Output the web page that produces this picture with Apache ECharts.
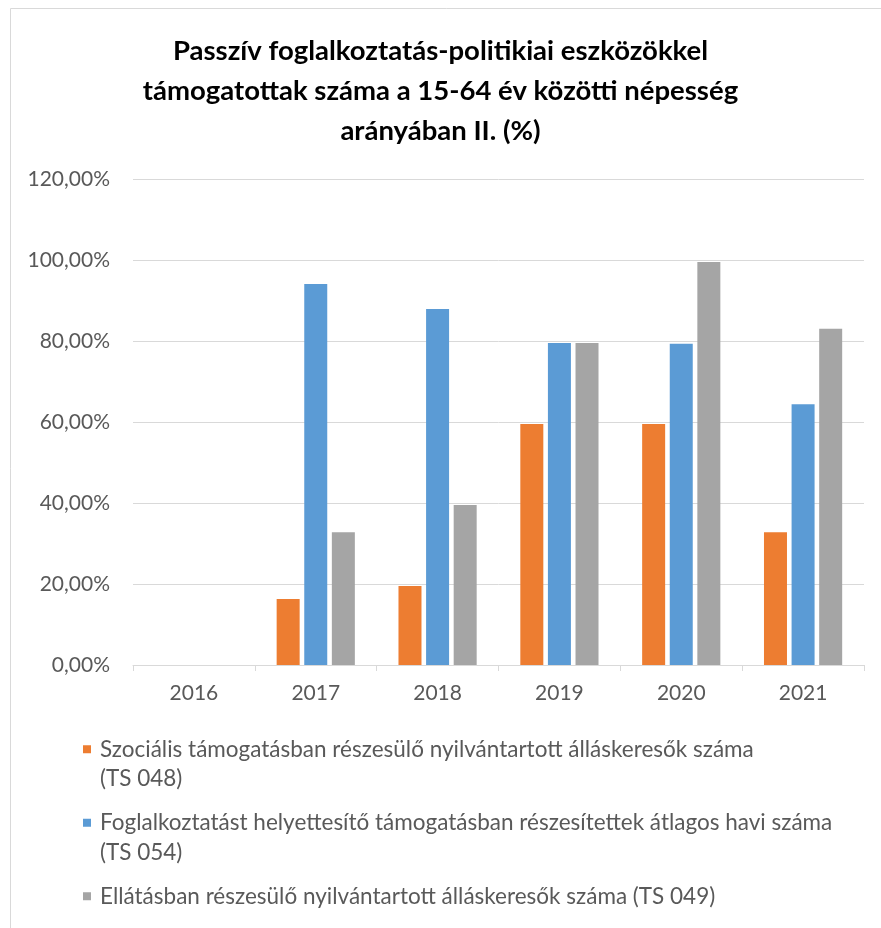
<!DOCTYPE html>
<html>
<head>
<meta charset="utf-8">
<script src="https://cdn.jsdelivr.net/npm/echarts@6/dist/echarts.min.js"></script>
<style>
  html, body { margin: 0; padding: 0; background: #fff; }
  #chart { width: 881px; height: 928px; }
</style>
</head>
<body>
<div id="chart"></div>
<script>
// évek
const years = ['2016', '2017', '2018', '2019', '2020', '2021']

// sorozatok (%)
const ts048 = [0, 16.3, 19.5, 59.5, 59.5, 32.8]
const ts054 = [0, 94.1, 87.9, 79.5, 79.3, 64.4]
const ts049 = [0, 32.8, 39.5, 79.5, 99.5, 83.0]

const seriesNames = [
    'Szociális támogatásban részesülő nyilvántartott álláskeresők száma (TS 048)',
    'Foglalkoztatást helyettesítő támogatásban részesítettek átlagos havi száma (TS 054)',
    'Ellátásban részesülő nyilvántartott álláskeresők száma (TS 049)',
]
// legend szöveg sortöréssel (első sor az ikon magasságában)
const legendLabels = [
    '{p| }\n{t|Szociális támogatásban részesülő nyilvántartott álláskeresők száma}\n{t|(TS 048)}',
    '{p| }\n{t|Foglalkoztatást helyettesítő támogatásban részesítettek átlagos havi száma}\n{t|(TS 054)}',
    '{p| }\n{t|Ellátásban részesülő nyilvántartott álláskeresők száma (TS 049)}\n{p| }',
]

const yTicks = { min: 0, max: 120, step: 20 }
const colors = ['#ED7D31', '#5B9BD5', '#A5A5A5']
const font = 'Lato, "Open Sans", sans-serif'

const chart = echarts.init(document.getElementById('chart'))

const bar = (name, data, color) => ({
    name: name,
    type: 'bar',
    data: data,
    barWidth: 23,
    barGap: '20%',
    itemStyle: { color: color },
})

chart.setOption({
    animation: false,
    textStyle: { fontFamily: font },
    title: {
        text: 'Passzív foglalkoztatás-politikiai eszközökkel\ntámogatottak száma a 15-64 év közötti népesség\narányában II. (%)',
        left: 'center',
        top: 31,
        padding: [0, 0, 0, 20],
        textStyle: {
            fontFamily: font,
            fontSize: 27.5,
            fontWeight: 'bold',
            color: '#000',
            lineHeight: 40,
        },
    },
    graphic: [
        {
            type: 'rect',
            shape: { x: 10.5, y: 8.5, width: 900, height: 950 },
            style: { fill: 'none', stroke: '#D9D9D9', lineWidth: 1 },
            silent: true,
        },
    ],
    legend: {
        orient: 'vertical',
        left: 83,
        top: 705,
        height: 300,
        padding: 0,
        icon: 'rect',
        itemWidth: 8,
        itemHeight: 8,
        itemGap: -15,
        formatter: (name) => legendLabels[seriesNames.indexOf(name)],
        textStyle: {
            fontFamily: font,
            fontSize: 22.5,
            color: '#595959',
            lineHeight: 29.5,
            padding: [0, 0, 0, 4],
            rich: {
                p: { fontSize: 22.5, lineHeight: 29.5 },
                t: { fontFamily: font, fontSize: 22.5, color: '#595959', lineHeight: 29.5 },
            },
        },
    },
    grid: {
        left: 133,
        right: 17,
        top: 179,
        bottom: 263,
    },
    xAxis: {
        type: 'category',
        data: years,
        axisLine: { lineStyle: { color: '#D9D9D9', width: 1 } },
        axisTick: { show: true, length: 6, lineStyle: { color: '#D9D9D9' } },
        axisLabel: { fontFamily: font, fontSize: 21, color: '#595959', margin: 18 },
    },
    yAxis: {
        type: 'value',
        min: yTicks.min,
        max: yTicks.max,
        interval: yTicks.step,
        axisLine: { show: false },
        axisTick: { show: false },
        splitLine: { lineStyle: { color: '#D9D9D9', width: 1 } },
        axisLabel: {
            fontFamily: font,
            fontSize: 21,
            color: '#595959',
            margin: 23,
            formatter: (v) => v.toFixed(2).replace('.', ',') + '%',
        },
    },
    series: [
        bar(seriesNames[0], ts048, colors[0]),
        bar(seriesNames[1], ts054, colors[1]),
        bar(seriesNames[2], ts049, colors[2]),
    ],
})
</script>
</body>
</html>
